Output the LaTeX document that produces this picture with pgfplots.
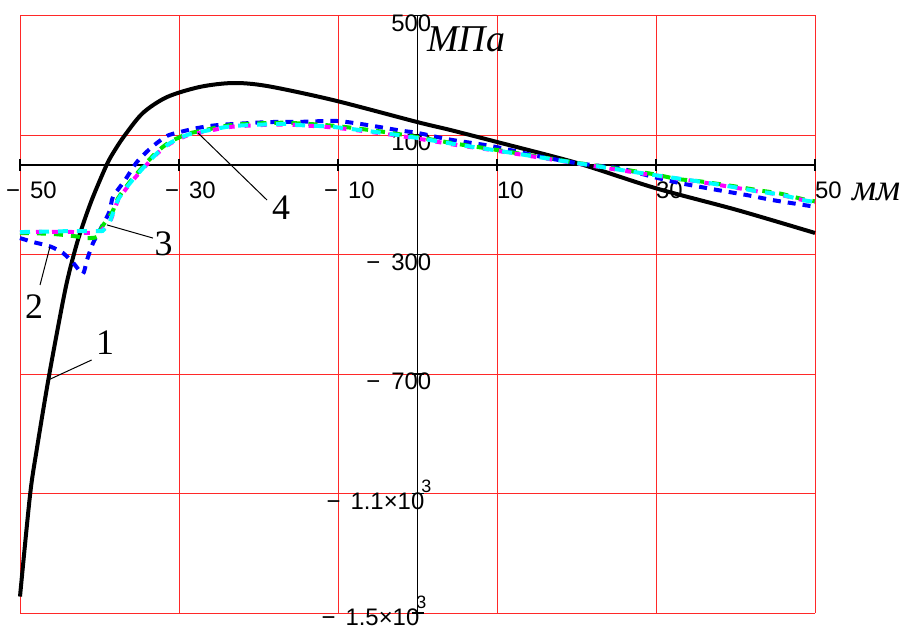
\documentclass[border=0pt]{standalone}
\usepackage{fontspec}
\setmainfont{Liberation Sans}
\newfontfamily\tms{Liberation Serif}
\usepackage{pgfplots}
\pgfplotsset{compat=1.18}

\definecolor{gridred}{RGB}{255,40,40}
\definecolor{cblue}{RGB}{0,0,255}
\definecolor{cgreen}{RGB}{0,230,0}
\definecolor{cmag}{RGB}{255,0,255}
\definecolor{ccyan}{RGB}{0,255,255}

\newcommand{\expo}[1]{\hspace{-3bp}\raisebox{17bp}{\fontsize{18}{18}\selectfont #1}\hspace{5bp}}

\begin{document}
\begin{tikzpicture}
\begin{axis}[
    scale only axis,
    width=795bp, height=597.5bp,
    xmin=-50, xmax=50, ymin=-1500, ymax=500,
    enlargelimits=false,
    axis lines=middle,
    axis line style={-, black, line width=1.5bp},
    every inner x axis line/.append style={-},
    every inner y axis line/.append style={-},
    clip=false,
    xtick={-50,-30,-10,10,30,50},
    xticklabels={\llap{−}\hspace{10bp}50,\llap{−}\hspace{10bp}30,\llap{−}\hspace{10bp}10,10,30,50},
    ytick={-1500,-1100,-700,-300,100,500},
    yticklabels={\raisebox{4bp}{−\hspace{10bp}1.5×10\expo{3}},−\hspace{10bp}1.1×10\expo{3},−\hspace{11bp}700,−\hspace{11bp}300,100,500},
    tick align=center,
    major tick length=12bp,
    tick style={black, line width=1.5bp},
    xticklabel style={anchor=base west, inner sep=0pt, yshift=-28bp, font=\fontsize{24}{24}\selectfont},
    yticklabel style={anchor=base east, inner sep=0pt, xshift=20bp, yshift=-16bp, font=\fontsize{24}{24}\selectfont},
    grid=major,
    major grid style={gridred, line width=0.9bp},
]
% 1
\addplot[black, line width=4bp, smooth, tension=0.5] coordinates {
(-50,-1445) (-48.74,-1106) (-47.9,-954) (-46.44,-720) (-44.97,-508) (-44.13,-396)
(-43.3,-307) (-42.45,-229) (-40.98,-118) (-39.1,0) (-38.05,50) (-36.79,100)
(-34.53,174) (-31.51,227) (-27.36,261) (-23.21,274) (-18.93,264) (-10.63,217)
(-0.06,143.5) (4.09,117) (10,76.6) (20.06,6.3) (29.87,-77.4) (40.19,-151) (50,-228)};
% 2
\addplot[cblue, line width=4bp, dash pattern=on 8bp off 7bp, smooth, tension=0.4] coordinates {
(-50,-245) (-48.4,-258) (-46.2,-273) (-44.6,-295) (-43.3,-328) (-42.1,-365)
(-41.57,-318) (-40.82,-262) (-39.94,-218) (-39.06,-174) (-38.68,-151) (-38.3,-107)
(-36.79,-51) (-35.28,10) (-33.4,60) (-31.5,97) (-29.87,110) (-27.74,123) (-25.2,133)
(-18.9,143) (-14.78,144) (-10.19,147) (-6.2,133) (-2.2,115) (0,107) (4,85) (9.5,62)
(15,30) (20,6) (25.5,-12) (29.6,-40) (33,-61) (37.7,-84) (41.4,-101) (44.7,-118)
(48.5,-134) (50,-140)};
% green
\addplot[cgreen, line width=4bp, dash pattern=on 9bp off 8bp, smooth, tension=0.4] coordinates {
(-50,-228) (-46,-231) (-43.3,-238) (-41.6,-245) (-40.3,-241) (-39.7,-208) (-38.4,-158)
(-37.67,-112) (-36.16,-56) (-34.53,-6) (-32.77,44) (-31.13,77) (-29,103) (-27.36,113)
(-23.2,134) (-16.9,141) (-10.6,131) (-4.4,111) (0,93) (5,70) (9.5,52) (20,7) (29,-28)
(32.6,-47) (35.5,-55) (39.9,-72) (43.1,-86) (45.6,-96) (48.5,-115) (50,-122)};
% 3
\addplot[cmag, line width=4bp, dash pattern=on 6bp off 10bp, smooth, tension=0.4] coordinates {
(-50,-225) (-44.1,-224) (-41.6,-228) (-40,-224) (-39.06,-200) (-38.68,-192) (-37.67,-119)
(-36.16,-63) (-34.53,-13) (-32.77,37) (-31.13,71) (-29,98) (-27.36,108) (-23.2,128)
(-16.9,135) (-10.6,125) (-4.4,105) (0,88) (5,66) (9.5,49) (20,5) (29,-32) (35.5,-57)
(39.9,-76) (43.1,-90) (45.6,-100) (48.5,-118) (50,-125)};
% 4
\addplot[ccyan, line width=4bp, dash pattern=on 10bp off 9bp, smooth, tension=0.4] coordinates {
(-50,-225) (-44.1,-222) (-40,-222) (-39.5,-218) (-38.7,-190) (-37.67,-117) (-36.16,-61)
(-34.53,-11) (-32.77,39) (-31.13,73) (-29,100) (-27.36,110) (-23.2,130) (-16.9,137)
(-14.78,133) (-10.6,127) (-4.4,107) (0,90) (5,68) (9.5,50) (20,6) (29,-31) (35.5,-56)
(39.9,-75) (43.1,-90) (45.6,-99) (48.5,-118) (50,-124)};

% leader lines and curve numbers
\draw[black, line width=1bp] (axis cs:-46.44,-720) -- (axis cs:-40.98,-653);
\draw[black, line width=1bp] (axis cs:-46.23,-274) -- (axis cs:-47.48,-402);
\draw[black, line width=1bp] (axis cs:-39.06,-201) -- (axis cs:-33.27,-245);
\draw[black, line width=1bp] (axis cs:-27.61,106.7) -- (axis cs:-18.93,-117.6);
\node[anchor=base, inner sep=0pt, font=\tms\fontsize{36}{36}\selectfont] at (axis cs:-39.3,-636) {1};
\node[anchor=base, inner sep=0pt, font=\tms\fontsize{36}{36}\selectfont] at (axis cs:-48.24,-512.6) {2};
\node[anchor=base, inner sep=0pt, font=\tms\fontsize{36}{36}\selectfont] at (axis cs:-31.95,-301.7) {3};
\node[anchor=base, inner sep=0pt, font=\tms\fontsize{36}{36}\selectfont] at (axis cs:-17.17,-184.5) {4};
% axis names
\node[anchor=base west, inner sep=0pt, font=\tms\itshape\fontsize{38}{38}\selectfont] at (axis cs:1.19,378) {МПа};
\node[anchor=base west, inner sep=0pt, font=\tms\itshape\fontsize{38}{38}\selectfont] at (axis cs:54.65,-117.6) {мм};
\end{axis}
\pgfresetboundingbox
\useasboundingbox (-20bp,-17bp) rectangle (882bp,613bp);
\end{tikzpicture}
\end{document}
